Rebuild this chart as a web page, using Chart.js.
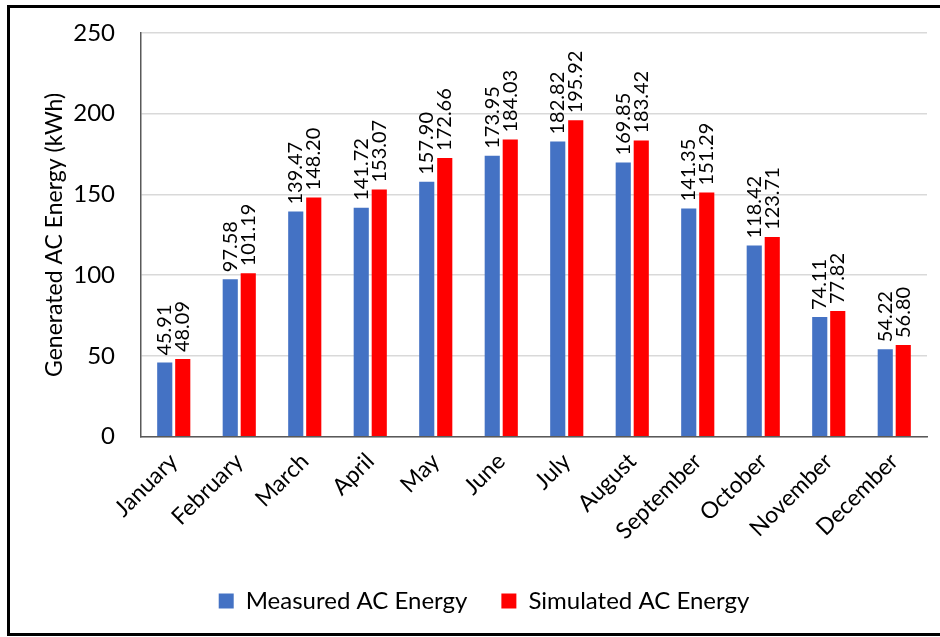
<!DOCTYPE html>
<html>
<head>
<meta charset="utf-8">
<script src="https://cdn.jsdelivr.net/npm/chart.js@4"></script>
<style>
  html, body { margin: 0; padding: 0; background: #fff; }
  #wrap { position: relative; width: 940px; height: 637px; overflow: hidden; }
  #frame { position: absolute; left: 7px; top: 5px; width: 960px; height: 625px;
           border: 3px solid #000; pointer-events: none; }
  canvas { position: absolute; left: 0; top: 0; }
</style>
</head>
<body>
<div id="wrap">
  <canvas id="chartBar" width="940" height="637"></canvas>
  <div id="frame"></div>
</div>
<script>
//data
const months = ["January", "February", "March", "April", "May", "June",
    "July", "August", "September", "October", "November", "December"];
const measured = [45.91, 97.58, 139.47, 141.72, 157.90, 173.95, 182.82, 169.85, 141.35, 118.42, 74.11, 54.22];
const simulated = [48.09, 101.19, 148.20, 153.07, 172.66, 184.03, 195.92, 183.42, 151.29, 123.71, 77.82, 56.80];
const yTicks = [0, 50, 100, 150, 200, 250];

const fontFam = "Lato, 'Liberation Sans', sans-serif";

//value labels drawn vertical above each bar
const barLabels = {
    id: "barLabels",
    afterDatasetsDraw(chart) {
        const ctx = chart.ctx;
        ctx.save();
        ctx.font = "20px " + fontFam;
        ctx.fillStyle = "#000";
        ctx.textAlign = "left";
        ctx.textBaseline = "middle";
        chart.data.datasets.forEach((ds, i) => {
            chart.getDatasetMeta(i).data.forEach((bar, j) => {
                ctx.save();
                ctx.translate(bar.x, bar.y - 7);
                ctx.rotate(-Math.PI / 2);
                ctx.fillText(ds.data[j].toFixed(2), 0, 0);
                ctx.restore();
            });
        });
        ctx.restore();
    }
};

const dataBarChart = {
    labels: months,
    datasets: [
    {
        label: "Measured AC Energy",
        backgroundColor: "#4472C4",
        data: measured,
    },
    {
        label: "Simulated AC Energy",
        backgroundColor: "#FF0000",
        data: simulated,
    },
    ],
};

const configBarChart = {
    type: "bar",
    data: dataBarChart,
    plugins: [barLabels],
    options: {
        responsive: false,
        animation: false,
        categoryPercentage: 0.55,
        barPercentage: 0.84,
        layout: { padding: { left: 41, right: 13, top: 0, bottom: 14 } },
        plugins: {
            tooltip: { enabled: false },
            legend: {
                position: "bottom",
                labels: {
                    boxWidth: 15, boxHeight: 15, padding: 34,
                    color: "#000",
                    font: { size: 24, family: fontFam },
                },
            },
        },
        scales: {
            x: {
                grid: { display: false },
                border: { display: true, color: "#595959", width: 1.5 },
                ticks: {
                    color: "#000",
                    minRotation: 45, maxRotation: 45,
                    font: { size: 23, family: fontFam },
                },
                afterFit: (s) => { s.height += 7; },
            },
            y: {
                min: 0, max: 250,
                afterBuildTicks: (s) => { s.ticks = yTicks.map(v => ({ value: v })); },
                afterFit: (s) => { s.width = 100; s.paddingTop = 33; },
                grid: { color: "#d9d9d9", lineWidth: 1.5, drawTicks: false },
                border: { display: true, color: "#595959", width: 1.5 },
                ticks: {
                    color: "#000",
                    padding: 26,
                    font: { size: 24, family: fontFam },
                },
                title: {
                    display: true,
                    text: "Generated AC Energy (kWh)",
                    color: "#000",
                    padding: 0,
                    font: { size: 23, family: fontFam },
                },
            },
        },
    },
};

var chartBar = new Chart(
    document.getElementById("chartBar"),
    configBarChart
);
</script>
</body>
</html>
